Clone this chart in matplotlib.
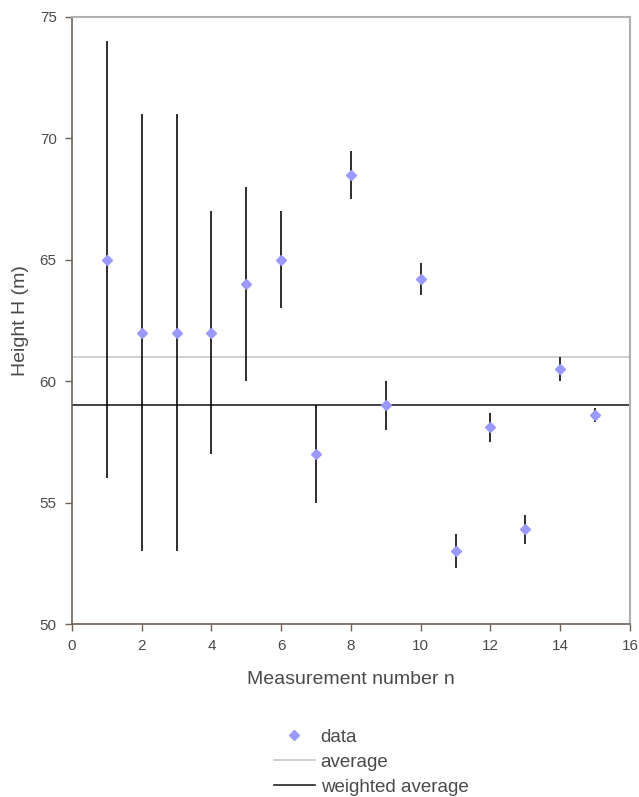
import matplotlib
matplotlib.use("Agg")
import matplotlib.pyplot as plt
from matplotlib.lines import Line2D

n = [1, 2, 3, 4, 5, 6, 7, 8, 9, 10, 11, 12, 13, 14, 15]
height = [65, 62, 62, 62, 64, 65, 57, 68.5, 59, 64.2, 53.0, 58.1, 53.9, 60.5, 58.6]
error = [9, 9, 9, 5, 4, 2, 2, 1, 1, 0.65, 0.7, 0.6, 0.6, 0.5, 0.3]
average = 61.0
weighted_average = 59.0
xticks = [0, 2, 4, 6, 8, 10, 12, 14, 16]
yticks = [50, 55, 60, 65, 70, 75]

plt.rcParams['font.family'] = ['Liberation Sans', 'DejaVu Sans']
text_color = '#4a4a4a'
axis_color = '#6e6258'

fig = plt.figure(figsize=(6.39, 7.97), dpi=100)
ax = fig.add_axes([72/639, 1-624/797, (630-72)/639, (624-17)/797])

ax.axhline(average, color='#c8c8c8', lw=1.2, zorder=1)
ax.axhline(weighted_average, color='#222222', lw=1.2, zorder=1)
ax.errorbar(n, height, yerr=error, fmt='none', ecolor='black', elinewidth=1.15, capsize=0, zorder=2)
ax.plot(n, height, linestyle='none', marker='D', ms=5, color='#9999ff', mec='#9999ff', zorder=3)

ax.set_xlim(0, 16)
ax.set_ylim(50, 75)
ax.set_xticks(xticks)
ax.set_yticks(yticks)
ax.tick_params(direction='out', length=5, width=1, colors=axis_color, labelcolor=text_color, labelsize=11, pad=6)

for s in ['left', 'bottom']:
    ax.spines[s].set_color(axis_color)
    ax.spines[s].set_linewidth(1.2)
for s in ['top', 'right']:
    ax.spines[s].set_color('#b0b0b0')
    ax.spines[s].set_linewidth(1.5)

ax.set_xlabel('Measurement number n', color=text_color, fontsize=14, labelpad=13)
ax.set_ylabel('Height H (m)', color=text_color, fontsize=14, labelpad=8)

handles = [
    Line2D([], [], linestyle='none', marker='D', ms=5, color='#9999ff'),
    Line2D([], [], color='#c8c8c8', lw=1.2),
    Line2D([], [], color='#222222', lw=1.2),
]
leg = fig.legend(handles, ['data', 'average', 'weighted average'],
                 loc='center', bbox_to_anchor=(371/639, 1-762/797), frameon=False,
                 fontsize=13.5, handlelength=2.2, handletextpad=0.3, labelspacing=0.42,
                 borderpad=0)
for t in leg.get_texts():
    t.set_color(text_color)

fig.savefig('out.png', dpi=100)
